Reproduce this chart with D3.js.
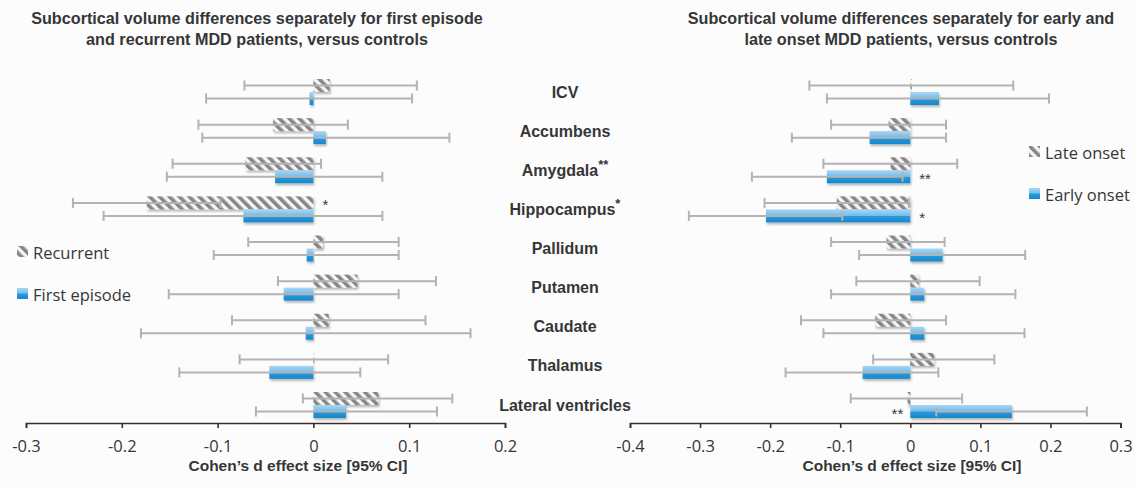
<!DOCTYPE html>
<html>
<head>
<meta charset="utf-8">
<script src="https://cdn.jsdelivr.net/npm/d3@7/dist/d3.min.js"></script>
<style>
  html, body { margin: 0; padding: 0; background: #fcfcfd; }
  svg { display: block; }
</style>
</head>
<body>
<svg id="chart" width="1135" height="489"></svg>
<script>
// ---------- DATA ----------
const categories = ["ICV", "Accumbens", "Amygdala", "Hippocampus", "Pallidum", "Putamen", "Caudate", "Thalamus", "Lateral ventricles"];
const categorySup = ["", "", "**", "*", "", "", "", "", ""];

// Left panel: recurrent vs first episode
const recurrentD  = [0.017, -0.042, -0.071, -0.174, 0.010, 0.046, 0.016, 0.001, 0.068];
const recurrentLo = [-0.072, -0.120, -0.147, -0.251, -0.068, -0.037, -0.085, -0.077, -0.011];
const recurrentHi = [0.108, 0.036, 0.008, -0.097, 0.089, 0.128, 0.117, 0.078, 0.145];
const firstD  = [-0.004, 0.013, -0.040, -0.073, -0.007, -0.031, -0.008, -0.046, 0.034];
const firstLo = [-0.112, -0.116, -0.153, -0.219, -0.104, -0.151, -0.180, -0.140, -0.060];
const firstHi = [0.103, 0.142, 0.072, 0.072, 0.089, 0.089, 0.164, 0.049, 0.129];

// Right panel: late onset vs early onset
const lateD  = [0.002, -0.031, -0.028, -0.105, -0.034, 0.012, -0.050, 0.034, -0.004];
const lateLo = [-0.144, -0.113, -0.124, -0.208, -0.113, -0.077, -0.156, -0.053, -0.085];
const lateHi = [0.147, 0.051, 0.067, -0.002, 0.049, 0.099, 0.051, 0.120, 0.074];
const earlyD  = [0.041, -0.058, -0.119, -0.206, 0.046, 0.020, 0.020, -0.068, 0.145];
const earlyLo = [-0.119, -0.169, -0.226, -0.316, -0.073, -0.113, -0.124, -0.178, 0.037];
const earlyHi = [0.198, 0.051, -0.011, -0.097, 0.164, 0.150, 0.163, 0.040, 0.252];

const leftTicks  = [-0.3, -0.2, -0.1, 0, 0.1, 0.2];
const rightTicks = [-0.4, -0.3, -0.2, -0.1, 0, 0.1, 0.2, 0.3];

const leftTitle  = ["Subcortical volume differences separately for first episode", "and recurrent MDD patients, versus controls"];
const rightTitle = ["Subcortical volume differences separately for early and", "late onset MDD patients, versus controls"];
const axisTitle = "Cohen\u2019s d effect size [95% CI]";
const leftLegend  = ["Recurrent", "First episode"];
const rightLegend = ["Late onset", "Early onset"];

// significance stars: [category, series index (0 = hatched, 1 = blue), text, side]
const leftStars  = [["Hippocampus", 0, "*", "right"]];
const rightStars = [["Amygdala", 1, "**", "right"], ["Hippocampus", 1, "*", "right"], ["Lateral ventricles", 1, "**", "left"]];

// ---------- SETUP ----------
const svg = d3.select("#chart");
const defs = svg.append("defs");

const hatch = defs.append("pattern").attr("id", "hatch")
  .attr("patternUnits", "userSpaceOnUse").attr("width", 7).attr("height", 7)
  .attr("patternTransform", "rotate(-45)");
hatch.append("rect").attr("width", 7).attr("height", 7).attr("fill", "#f6f6f6");
hatch.append("rect").attr("width", 3.6).attr("height", 7).attr("fill", "#878787");

const grad = defs.append("linearGradient").attr("id", "blue")
  .attr("x1", 0).attr("y1", 0).attr("x2", 0).attr("y2", 1);
[["0%", "#a9d6f3"], ["48%", "#74bdea"], ["52%", "#2a9bdd"], ["100%", "#1786cc"]]
  .forEach(([o, c]) => grad.append("stop").attr("offset", o).attr("stop-color", c));

const shadow = defs.append("filter").attr("id", "shadow")
  .attr("x", "-10%").attr("y", "-20%").attr("width", "130%").attr("height", "170%");
shadow.append("feDropShadow").attr("dx", 1).attr("dy", 2).attr("stdDeviation", 1.3)
  .attr("flood-color", "#000").attr("flood-opacity", 0.28);

const y = d3.scalePoint().domain(categories).range([92, 405]);
const barH = 13;
const rowOff = 6.5;
const axisY = 423;

const textColor = "#363636";

function panel(cfg) {
  const { x, ticks, hatchD, hatchLo, hatchHi, blueD, blueLo, blueHi, stars } = cfg;
  const g = svg.append("g");

  const rows = categories.map((c, i) => ({ c, i }));

  // hatched bars (upper row)
  g.selectAll(".hb").data(rows).join("rect")
    .attr("x", d => Math.min(x(0), x(hatchD[d.i])))
    .attr("width", d => Math.max(Math.abs(x(hatchD[d.i]) - x(0)), 0.8))
    .attr("y", d => y(d.c) - barH)
    .attr("height", barH)
    .attr("fill", "url(#hatch)")
    .attr("filter", "url(#shadow)");

  // blue bars (lower row)
  g.selectAll(".bb").data(rows).join("rect")
    .attr("x", d => Math.min(x(0), x(blueD[d.i])))
    .attr("width", d => Math.max(Math.abs(x(blueD[d.i]) - x(0)), 0.8))
    .attr("y", d => y(d.c))
    .attr("height", barH)
    .attr("fill", "url(#blue)")
    .attr("filter", "url(#shadow)");

  // error bars
  const errs = [];
  rows.forEach(d => {
    errs.push({ lo: hatchLo[d.i], hi: hatchHi[d.i], yy: y(d.c) - rowOff });
    errs.push({ lo: blueLo[d.i], hi: blueHi[d.i], yy: y(d.c) + rowOff });
  });
  const eg = g.append("g").attr("stroke", "#b3b3b3").attr("stroke-width", 2).attr("fill", "none");
  eg.selectAll(".el").data(errs).join("line")
    .attr("x1", d => x(d.lo)).attr("x2", d => x(d.hi))
    .attr("y1", d => d.yy).attr("y2", d => d.yy);
  eg.selectAll(".cl").data(errs).join("line")
    .attr("x1", d => x(d.lo)).attr("x2", d => x(d.lo))
    .attr("y1", d => d.yy - 5).attr("y2", d => d.yy + 5);
  eg.selectAll(".ch").data(errs).join("line")
    .attr("x1", d => x(d.hi)).attr("x2", d => x(d.hi))
    .attr("y1", d => d.yy - 5).attr("y2", d => d.yy + 5);

  // stars
  g.selectAll(".star").data(stars).join("text")
    .attr("x", d => d[3] === "right" ? x(0) + 9 : x(0) - 7)
    .attr("y", d => y(d[0]) + (d[1] === 0 ? -rowOff : rowOff) + 7)
    .attr("text-anchor", d => d[3] === "right" ? "start" : "end")
    .attr("font-family", "Liberation Sans, Arial, sans-serif")
    .attr("font-size", 15)
    .attr("fill", textColor)
    .text(d => d[2]);

  // axis
  const axis = d3.axisBottom(x).tickValues(ticks).tickSize(5).tickSizeOuter(5)
    .tickFormat(d => d === 0 ? "0" : d3.format(".1f")(d).replace("\u2212", "-"));
  const ag = g.append("g").attr("transform", `translate(0,${axisY})`).call(axis);
  ag.select(".domain").attr("stroke", "#3b2d28").attr("stroke-width", 1.6);
  ag.selectAll(".tick line").attr("stroke", "#3b2d28").attr("stroke-width", 1.6);
  ag.selectAll(".tick text")
    .attr("font-family", "Open Sans, sans-serif")
    .attr("font-size", 16.5)
    .attr("fill", textColor)
    .attr("dy", 0)
    .attr("y", 29);

  g.append("text")
    .attr("x", cfg.axisTitleX).attr("y", 471)
    .attr("text-anchor", "middle")
    .attr("font-family", "Liberation Sans, Arial, sans-serif")
    .attr("font-weight", "bold").attr("font-size", 15.5)
    .attr("fill", textColor)
    .text(axisTitle);

  // title
  const t = g.append("text")
    .attr("text-anchor", "middle")
    .attr("font-family", "Liberation Sans, Arial, sans-serif")
    .attr("font-weight", "bold").attr("font-size", 16.2)
    .attr("fill", textColor);
  cfg.title.forEach((line, k) => {
    t.append("tspan").attr("x", cfg.titleX).attr("y", 24 + k * 20.7).text(line);
  });

  // legend
  cfg.legend.forEach((lab, k) => {
    const ly = cfg.legendY[k];
    g.append("rect")
      .attr("x", cfg.legendX).attr("y", ly - 6).attr("width", 11).attr("height", 11)
      .attr("fill", k === 0 ? "url(#hatch)" : "url(#blue)");
    g.append("text")
      .attr("x", cfg.legendX + 16).attr("y", ly)
      .attr("dominant-baseline", "central")
      .attr("font-family", "Open Sans, sans-serif")
      .attr("font-size", 16.5)
      .attr("fill", textColor)
      .text(lab);
  });
}

const xL = d3.scaleLinear().domain([-0.3, 0.2]).range([26, 505]);
const xR = d3.scaleLinear().domain([-0.4, 0.3]).range([630, 1120.5]);

panel({
  x: xL, ticks: leftTicks,
  hatchD: recurrentD, hatchLo: recurrentLo, hatchHi: recurrentHi,
  blueD: firstD, blueLo: firstLo, blueHi: firstHi,
  stars: leftStars, title: leftTitle, titleX: 257, axisTitleX: 298,
  legend: leftLegend, legendX: 17, legendY: [252, 294]
});
panel({
  x: xR, ticks: rightTicks,
  hatchD: lateD, hatchLo: lateLo, hatchHi: lateHi,
  blueD: earlyD, blueLo: earlyLo, blueHi: earlyHi,
  stars: rightStars, title: rightTitle, titleX: 901, axisTitleX: 912,
  legend: rightLegend, legendX: 1029, legendY: [152, 194]
});

// category labels
const lab = svg.append("g")
  .attr("font-family", "Liberation Sans, Arial, sans-serif")
  .attr("font-weight", "bold").attr("font-size", 16)
  .attr("fill", textColor);
const lt = lab.selectAll("text").data(categories).join("text")
  .attr("x", 565)
  .attr("y", d => y(d) + 5.5)
  .attr("text-anchor", "middle");
lt.append("tspan").text(d => d);
lt.append("tspan")
  .attr("font-size", 13).attr("dy", -7)
  .text((d, i) => categorySup[i]);
</script>
</body>
</html>
